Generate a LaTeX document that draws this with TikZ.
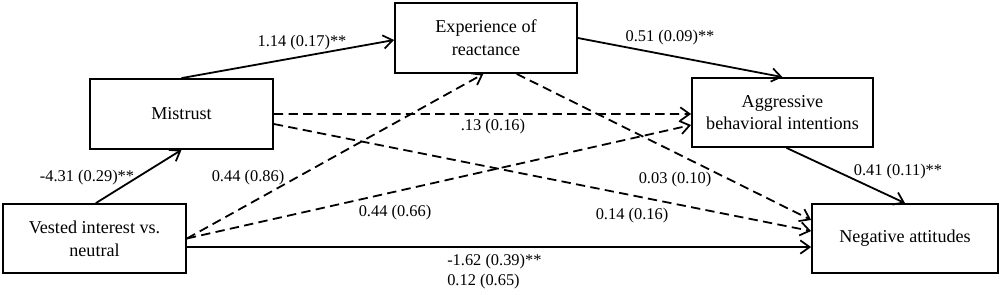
\documentclass[tikz,border=0pt]{standalone}
\usepackage{fontspec}
\setmainfont{Liberation Serif}
\usetikzlibrary{arrows.meta}
\begin{document}
\begin{tikzpicture}[x=0.75pt,y=-0.75pt,
  box/.style={draw,line width=1.35pt,rectangle,align=center,inner sep=0pt,
    font=\fontsize{13.6}{17}\selectfont},
  lbl/.style={inner sep=0pt,font=\fontsize{12.3}{15}\selectfont},
  arr/.style={line width=1.35pt,-{Straight Barb[length=7pt,width=10pt,line width=1.3pt]}},
  dsh/.style={arr,dash pattern=on 7pt off 4pt}]
\useasboundingbox (0,0) rectangle (1000,294);
\node[box,minimum width=183*0.75pt,minimum height=70*0.75pt] (M) at (181.5,114) {Mistrust};
\node[box,minimum width=182*0.75pt,minimum height=70*0.75pt] (E) at (486,38) {Experience of\\reactance};
\node[box,minimum width=181*0.75pt,minimum height=69*0.75pt] (A) at (782.5,112.5) {Aggressive\\behavioral intentions};
\node[box,minimum width=183*0.75pt,minimum height=69*0.75pt] (V) at (94.5,238.5) {Vested interest vs.\\neutral};
\node[box,minimum width=186*0.75pt,minimum height=69*0.75pt] (N) at (905,238.5) {Negative attitudes};
% solid
\draw[arr] (M.north) -- ([yshift=-1.5pt]E.west);
\draw[arr] (E.east) -- (A.north);
\draw[arr] ([xshift=3pt]A.south) -- (N.north);
\draw[arr] ([xshift=1pt]V.north) -- (M.south);
\draw[arr] ([yshift=-6.4pt]V.east) -- ([yshift=-6.4pt]N.west);
% dashed
\draw[dsh] (M.east) -- ([yshift=-1.1pt]A.west);
\draw[dsh] ([yshift=-7.5pt]M.east) -- ([yshift=5.6pt]N.west);
\draw[dsh] ([xshift=23pt]E.south) -- ([yshift=13.9pt]N.west);
\draw[dsh] (V.east) -- ([xshift=-2pt]E.south);
\draw[dsh] (V.east) -- ([yshift=-9.4pt]A.west);
% labels
\node[lbl] (l1) at (302,43) {1.14 (0.17)**};
\node[lbl] (l2) at (670,38) {0.51 (0.09)**};
\node[lbl] (l3) at (898,172) {0.41 (0.11)**};
\node[lbl] (l4) at (87,178) {-4.31 (0.29)**};
\node[lbl] (l5) at (493,127) {.13 (0.16)};
\node[lbl] (l6) at (248,178) {0.44 (0.86)};
\node[lbl] (l7) at (395,213) {0.44 (0.66)};
\node[lbl] (l8) at (675,180) {0.03 (0.10)};
\node[lbl] (l9) at (632,216) {0.14 (0.16)};
\node[lbl,align=left,anchor=west] (l10) at (447,272) {-1.62 (0.39)**\\0.12 (0.65)};
\end{tikzpicture}
\end{document}
